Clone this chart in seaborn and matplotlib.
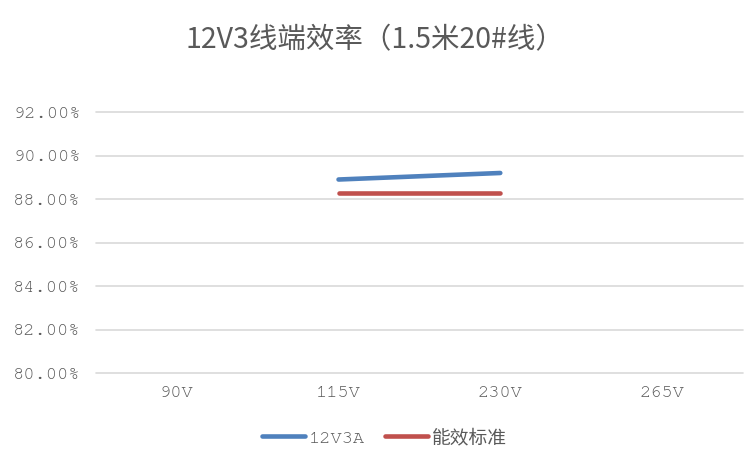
import numpy as np
import pandas as pd
import seaborn as sns
import matplotlib.pyplot as plt
from matplotlib.ticker import FuncFormatter

# chart data
categories = ["90V", "115V", "230V", "265V"]
eff_12v3a = [np.nan, 0.8890, 0.8920, np.nan]
eff_standard = [np.nan, 0.8830, 0.8830, np.nan]
series_names = ["12V3A", "能效标准"]
title = "12V3线端效率（1.5米20#线）"

sns.set_theme(style="white")
# Courier-like mono for the latin text, CJK font for the chinese legend entry
plt.rcParams["font.family"] = ["FreeMono", "Noto Sans CJK SC", "DejaVu Sans"]

# long-form table for seaborn
pos = np.arange(len(categories))
df = pd.concat(
    [
        pd.DataFrame({"x": pos, "value": eff_12v3a, "series": series_names[0]}),
        pd.DataFrame({"x": pos, "value": eff_standard, "series": series_names[1]}),
    ],
    ignore_index=True,
)

fig = plt.figure(figsize=(7.55, 4.67), dpi=100)
ax = fig.add_axes([0.127, 0.201, 0.857, 0.559])

sns.lineplot(
    data=df, x="x", y="value", hue="series",
    palette=["#4F81BD", "#C0504D"], linewidth=3.3,
    solid_capstyle="round", ax=ax, legend=True,
)

ax.set_xlim(-0.5, len(categories) - 0.5)
ax.set_ylim(0.80, 0.92)
ax.set_yticks(np.arange(0.80, 0.921, 0.02))
ax.yaxis.set_major_formatter(FuncFormatter(lambda v, _: f"{v:.2%}"))
ax.set_xticks(pos)
ax.set_xticklabels(categories)
ax.set_xlabel("")
ax.set_ylabel("")

ax.grid(axis="y", color="#D9D9D9", linewidth=1.2)
ax.set_axisbelow(True)
for line in ax.get_ygridlines():
    line.set_clip_on(False)
for s in ax.spines.values():
    s.set_visible(False)
ax.tick_params(axis="both", length=0, colors="#595959", labelsize=13.5)
ax.tick_params(axis="y", pad=11)
ax.tick_params(axis="x", pad=9)

fig.text(0.497, 0.914, title, ha="center", va="center", fontsize=20.5,
         color="#595959", family=["Noto Sans CJK SC", "DejaVu Sans"])

handles, labels = ax.get_legend_handles_labels()
ax.get_legend().remove()
leg = fig.legend(handles, labels, loc="center", bbox_to_anchor=(0.509, 0.064),
                 ncol=2, frameon=False, fontsize=13.5, handlelength=2.3,
                 columnspacing=1.05, handletextpad=0.2)
for t in leg.get_texts():
    t.set_color("#595959")

fig.savefig("out.png", dpi=100)
